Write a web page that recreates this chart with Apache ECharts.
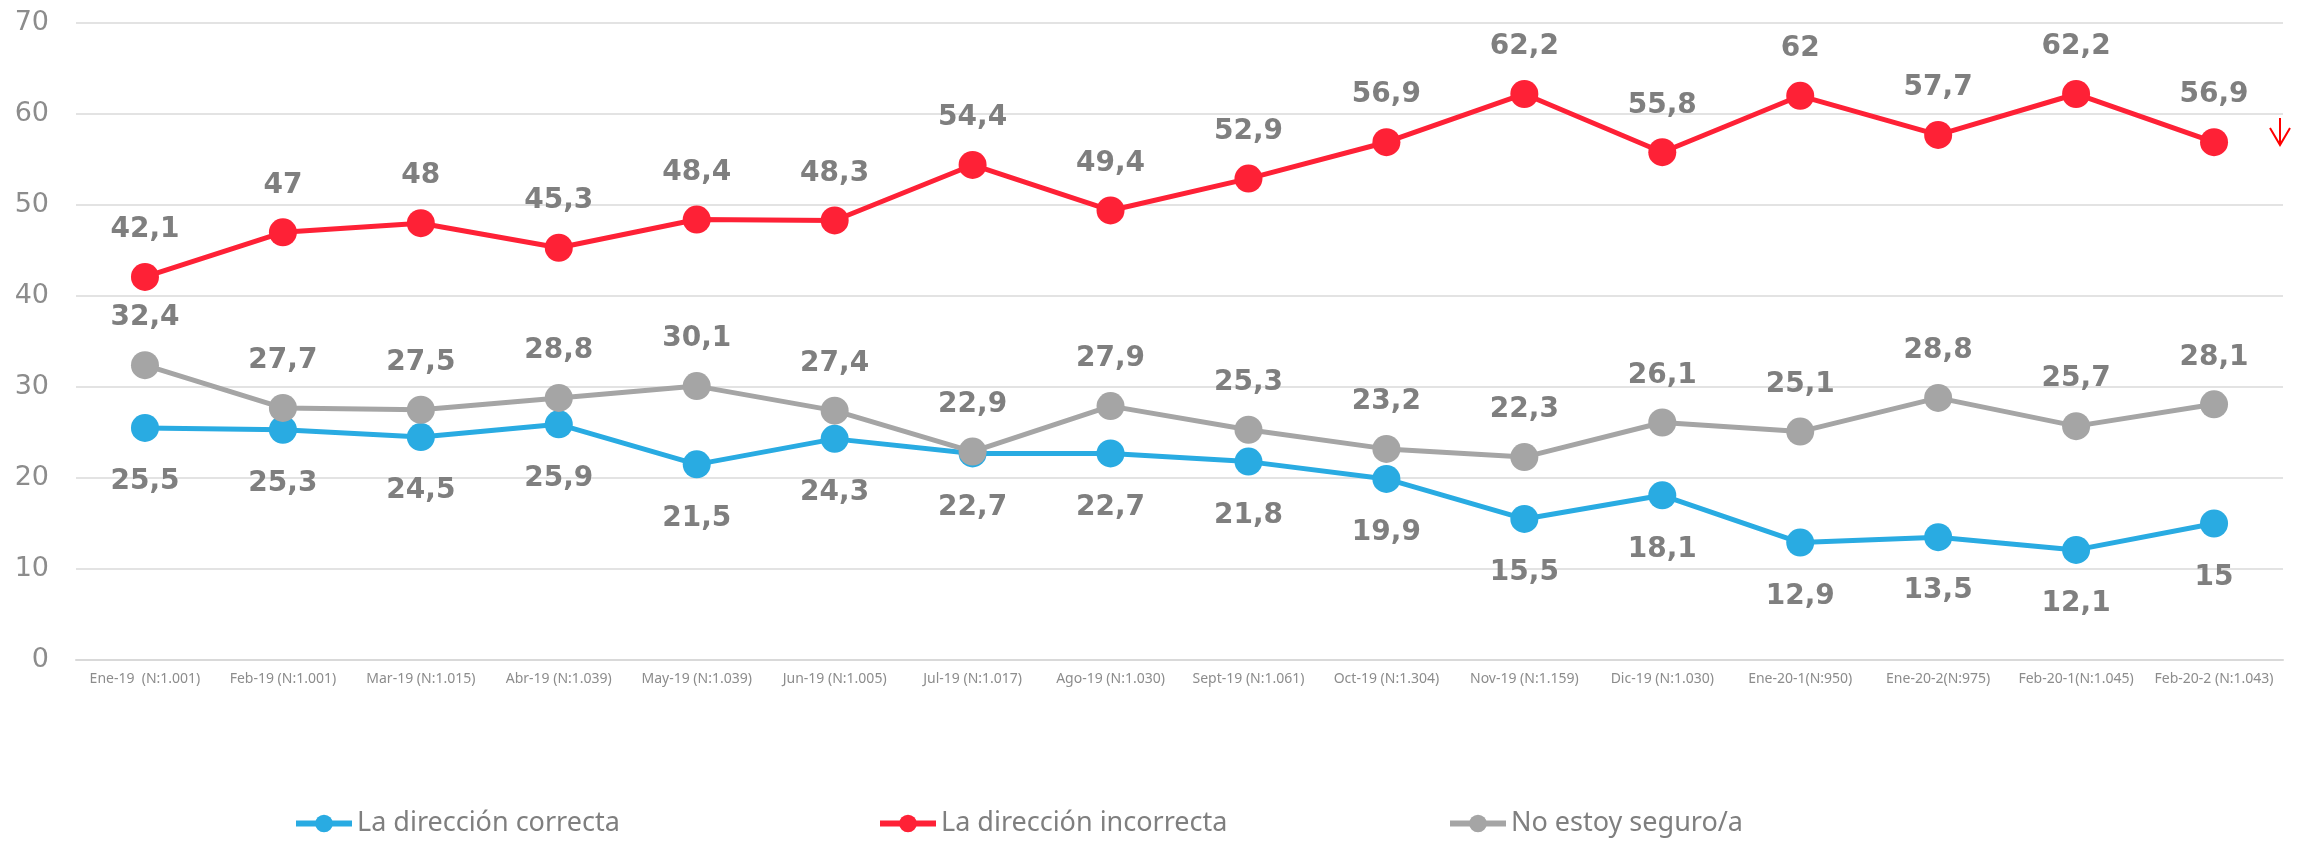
<!DOCTYPE html>
<html>
<head>
<meta charset="utf-8">
<script src="https://cdn.jsdelivr.net/npm/echarts@6/dist/echarts.min.js"></script>
<style>
  html, body { margin: 0; padding: 0; background: #fff; }
  #chart { width: 2305px; height: 846px; }
</style>
</head>
<body>
<div id="chart"></div>
<script>
const categories = [
  'Ene-19  (N:1.001)', 'Feb-19 (N:1.001)', 'Mar-19 (N:1.015)', 'Abr-19 (N:1.039)',
  'May-19 (N:1.039)', 'Jun-19 (N:1.005)', 'Jul-19 (N:1.017)', 'Ago-19 (N:1.030)',
  'Sept-19 (N:1.061)', 'Oct-19 (N:1.304)', 'Nov-19 (N:1.159)', 'Dic-19 (N:1.030)',
  'Ene-20-1(N:950)', 'Ene-20-2(N:975)', 'Feb-20-1(N:1.045)', 'Feb-20-2 (N:1.043)'
]
const correcta = [25.5, 25.3, 24.5, 25.9, 21.5, 24.3, 22.7, 22.7, 21.8, 19.9, 15.5, 18.1, 12.9, 13.5, 12.1, 15]
const incorrecta = [42.1, 47, 48, 45.3, 48.4, 48.3, 54.4, 49.4, 52.9, 56.9, 62.2, 55.8, 62, 57.7, 62.2, 56.9]
const noSeguro = [32.4, 27.7, 27.5, 28.8, 30.1, 27.4, 22.9, 27.9, 25.3, 23.2, 22.3, 26.1, 25.1, 28.8, 25.7, 28.1]
const yTicks = [0, 10, 20, 30, 40, 50, 60, 70]

const chart = echarts.init(document.getElementById('chart'))

// etiqueta con coma decimal
const labelStyle = (pos) => ({
  show: true,
  position: pos,
  distance: pos === 'bottom' ? 26 : 19,
  fontFamily: 'DejaVu Sans',
  fontWeight: 'bold',
  fontSize: 28,
  color: '#7f7f7f',
  formatter: (p) => String(p.value).replace('.', ','),
})

const mkSeries = (name, data, color, pos) => ({
  name,
  type: 'line',
  data,
  symbol: 'circle',
  symbolSize: 28,
  lineStyle: { color, width: 5 },
  itemStyle: { color },
  label: labelStyle(pos),
  animation: false,
})

const legendBase = {
  bottom: 4,
  itemWidth: 56,
  itemHeight: 22,
  itemGap: 6,
  lineStyle: { width: 6 },
  textStyle: { fontFamily: 'Liberation Sans Narrow, Noto Sans', fontSize: 27, color: '#7f7f7f' },
}

const option = {
  backgroundColor: '#fff',
  grid: { left: 76, right: 22, top: 23, bottom: 186 },
  legend: [
    { ...legendBase, left: 288, data: ['La dirección correcta'] },
    { ...legendBase, left: 872, data: ['La dirección incorrecta'] },
    { ...legendBase, left: 1442, data: ['No estoy seguro/a'] },
  ],
  xAxis: {
    type: 'category',
    data: categories,
    boundaryGap: true,
    axisLine: { show: true, lineStyle: { color: '#d9d9d9', width: 2 } },
    axisTick: { show: false },
    axisLabel: {
      interval: 0,
      margin: 12,
      fontFamily: 'Liberation Sans Narrow, Noto Sans',
      fontSize: 14,
      color: '#8c8c8c',
    },
  },
  yAxis: {
    type: 'value',
    min: yTicks[0],
    max: yTicks[yTicks.length - 1],
    interval: 10,
    axisLine: { show: false },
    axisTick: { show: false },
    splitLine: { lineStyle: { color: '#e3e3e3', width: 2 } },
    axisLabel: {
      margin: 27,
      fontFamily: 'DejaVu Sans',
      fontSize: 27,
      color: '#8c8c8c',
    },
  },
  graphic: [
    {
      type: 'group',
      silent: true,
      children: [
        { type: 'line', shape: { x1: 2280, y1: 118, x2: 2280, y2: 145 }, style: { stroke: '#ff0000', lineWidth: 2 } },
        { type: 'polyline', shape: { points: [[2270, 128], [2280, 145], [2290, 128]] }, style: { stroke: '#ff0000', lineWidth: 2, fill: null } },
      ],
    },
  ],
  series: [
    mkSeries('La dirección correcta', correcta, '#29abe2', 'bottom'),
    mkSeries('La dirección incorrecta', incorrecta, '#fe2136', 'top'),
    mkSeries('No estoy seguro/a', noSeguro, '#a5a5a5', 'top'),
  ],
}

chart.setOption(option)
</script>
</body>
</html>
